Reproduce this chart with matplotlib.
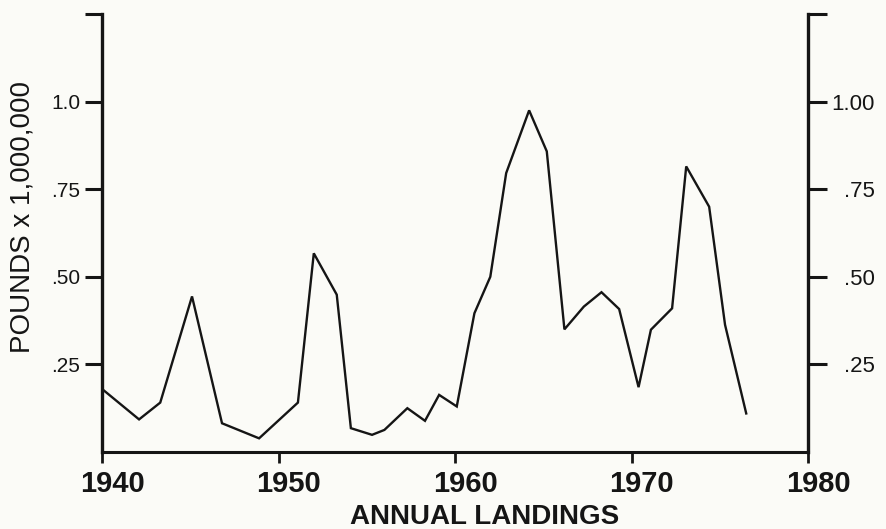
import matplotlib
matplotlib.use("Agg")
import matplotlib.pyplot as plt
from matplotlib import transforms

# data (landings, pounds x 1,000,000)
years = [1940.0, 1942.1, 1943.3, 1945.1, 1946.8, 1948.9, 1951.1, 1952.0,
         1953.3, 1954.1, 1955.3, 1956.0, 1957.3, 1958.3, 1959.1, 1960.1,
         1961.1, 1962.0, 1962.9, 1964.2, 1965.2, 1966.2, 1967.3, 1968.3,
         1969.3, 1970.4, 1971.1, 1972.3, 1973.1, 1974.4, 1975.3, 1976.5]
pounds = [0.18, 0.093, 0.141, 0.444, 0.082, 0.039, 0.141, 0.567,
          0.449, 0.068, 0.049, 0.063, 0.125, 0.089, 0.163, 0.13,
          0.396, 0.50, 0.796, 0.975, 0.858, 0.35, 0.415, 0.456,
          0.408, 0.185, 0.349, 0.41, 0.815, 0.70, 0.363, 0.11]

x_ticks = [1940, 1950, 1960, 1970, 1980]
y_ticks = [0.25, 0.50, 0.75, 1.0, 1.25]
left_labels = [".25", ".50", ".75", "1.0", ""]
right_labels = [".25", ".50", ".75", "1.00", ""]

plt.rcParams["font.family"] = ["Liberation Sans", "DejaVu Sans"]
bg = "#fbfbf7"
ink = "#151515"

fig = plt.figure(figsize=(8.86, 5.29), dpi=100, facecolor=bg)
ax = fig.add_axes([102 / 886, 1 - 452 / 529, 706 / 886, 438 / 529])
ax.set_facecolor(bg)

ax.plot(years, pounds, color=ink, lw=1.7, solid_joinstyle="miter")

ax.set_xlim(1940, 1980)
ax.set_ylim(0, 1.25)

for s in ["top", "right"]:
    ax.spines[s].set_visible(False)
ax.spines["left"].set_linewidth(2.4)
ax.spines["bottom"].set_linewidth(2.2)
ax.spines["left"].set_color(ink)
ax.spines["bottom"].set_color(ink)

ax.set_xticks(x_ticks)
ax.set_xticklabels([str(y) for y in x_ticks], fontsize=21, fontweight="bold")
ax.tick_params(axis="x", length=8, width=2, color=ink, pad=5, labelcolor=ink)
shift = transforms.ScaledTranslation(0.10, 0, fig.dpi_scale_trans)
for lab in ax.get_xticklabels():
    lab.set_transform(lab.get_transform() + shift)

ax.set_yticks(y_ticks)
ax.set_yticklabels(left_labels, fontsize=15)
ax.tick_params(axis="y", length=12, width=2.2, color=ink, pad=3.5, labelcolor=ink)

# right-hand axis with its own labels
ax2 = ax.twinx()
ax2.set_ylim(0, 1.25)
for s in ["top", "left", "bottom"]:
    ax2.spines[s].set_visible(False)
ax2.spines["right"].set_linewidth(2.4)
ax2.spines["right"].set_color(ink)
ax2.set_yticks(y_ticks)
ax2.set_yticklabels(right_labels, fontsize=16)
ax2.tick_params(axis="y", length=14, width=2.2, color=ink, pad=34, labelcolor=ink)
for lab in ax2.get_yticklabels():
    lab.set_horizontalalignment("right")

fig.text(485 / 886, 1 - 517 / 529, "ANNUAL LANDINGS", fontsize=20,
         fontweight="bold", ha="center", va="center", color=ink)
fig.text(23 / 886, 1 - 217 / 529, "POUNDS x 1,000,000", fontsize=20,
         rotation=90, ha="center", va="center", color=ink)

fig.savefig("out.png", dpi=100, facecolor=bg)
